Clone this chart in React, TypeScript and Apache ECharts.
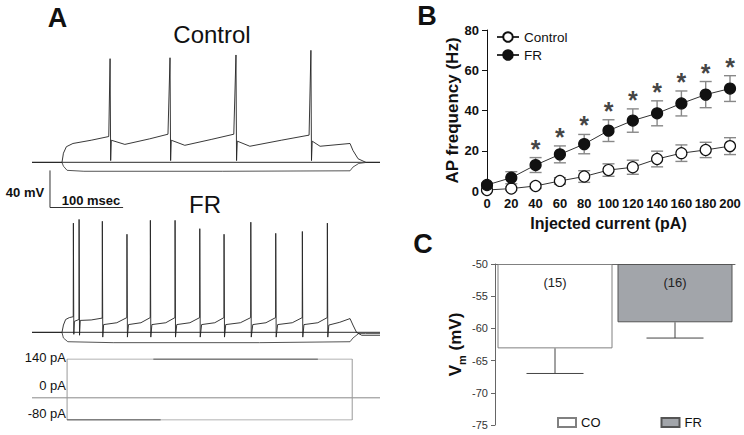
import React, { useEffect, useRef } from 'react';
import * as echarts from 'echarts';

const FONT = '"Liberation Sans", Arial, sans-serif';

// ---------- Panel A: example traces (time in ms, membrane potential in mV) ----------
const ctrlRest = [[-11, -70], [465, -70]];
const ctrlHyper = [[-11, -70], [30, -70], [32, -74], [37, -78.5], [60, -79.5], [250, -79.5], [424, -79], [428, -75], [436, -71], [446, -70], [465, -70]];
const ctrlDepol = [
  [-11, -70], [30, -70], [32, -60], [36, -53], [45, -49.5], [70, -46], [94, -42],
  [95.8, 42], [96.6, -68], [97.5, -46], [116, -50.5], [150, -44.5], [175, -39.5],
  [177.8, 43], [178.6, -68], [179.5, -46], [198, -51.5], [235, -45], [265, -39.5],
  [268, 46], [268.8, -68], [269.8, -47], [287, -52.5], [330, -46], [368, -40.5],
  [370.5, 51], [371.3, -68], [372.3, -47], [383, -52.5], [424, -49.5], [428, -57], [435, -66], [446, -70], [465, -70],
];
const scaleBar = [[13.6, -78.6], [13.6, -118.6], [113.6, -118.6]]; // 40 mV, 100 ms

const frRest = [[-11, -70], [465, -70]];
const frHyper = [[-11, -70], [30, -70], [32, -76], [38, -80], [100, -81], [300, -81], [424, -80], [428, -76], [436, -71], [445, -71], [465, -71]];
const frDepol = [
  [-11, -70], [30, -70], [32, -62], [35, -56], [40, -54], [45.4, -53],
  [45.6, 48], [46.2, -72], [47, -58], [53.2, -56],
  [53.4, 52], [54, -73], [55, -57], [70, -56.5], [85, -54.5],
  [85.2, 50], [85.8, -75], [87, -61.5], [105, -59.5], [118.7, -54],
  [118.9, 36], [119.5, -75], [121, -61.5], [138, -59.5], [150.7, -54],
  [150.9, 51], [151.5, -75], [153, -61.5], [172, -59.5], [184.5, -54],
  [184.7, 51], [185.3, -75], [187, -61.5], [205, -59.5], [218.3, -54],
  [218.5, 42], [219.1, -75], [221, -61.5], [239, -59.5], [251.5, -54],
  [251.7, 36], [252.3, -75], [254, -61.5], [274, -59.5], [288.1, -54],
  [288.3, 49], [288.9, -75], [291, -61.5], [309, -59.5], [322.2, -54],
  [322.4, 37], [323, -75], [325, -61.5], [345, -59.5], [358.6, -54],
  [358.8, 39], [359.4, -75], [361, -61.5], [380, -59.5], [392.8, -54],
  [393, 48], [393.6, -75], [395, -62], [410, -59], [424, -55],
  [428, -62], [433, -70], [440, -73], [465, -73],
];

// stimulus protocol (pA)
const stimZero = [[-11, 0], [465, 0]];
const stimBox = [[37, -80], [37, 140], [427, 140], [427, -80], [37, -80]];
const stimTopDark = [[155, 140], [380, 140]];
const stimBottomDark = [[37, -80], [165, -80]];
const stimLabels = ['140 pA', '0 pA', '-80 pA'];

// ---------- Panel B: AP frequency vs injected current ----------
const currents = [0, 20, 40, 60, 80, 100, 120, 140, 160, 180, 200];
const ctrlMean = [0.5, 1.2, 2.5, 5.0, 7.2, 10.4, 11.8, 15.9, 18.8, 20.4, 22.3];
const ctrlSem = [0.6, 0.8, 1.2, 1.6, 2.9, 3.1, 3.5, 3.9, 4.1, 3.8, 4.2];
const frMean = [3.0, 6.6, 12.9, 18.2, 23.3, 30.0, 35.0, 38.6, 43.5, 47.9, 50.9];
const frSem = [1.0, 3.0, 3.7, 4.2, 4.8, 5.4, 5.8, 6.2, 6.2, 6.5, 6.4];
const frSignificant = [false, false, true, true, true, true, true, true, true, true, true];

// ---------- Panel C: resting membrane potential ----------
const groups = ['CO', 'FR'];
const vmMean = [-63.1, -59.05];
const vmSem = [3.9, 2.45];
const groupN = ['(15)', '(16)'];

const errRender = (cap: number, color: string, lw: number, bothCaps: boolean) => (params: any, api: any) => {
  const x = api.value(0);
  const lo = api.coord([x, api.value(1)]);
  const hi = api.coord([x, api.value(2)]);
  const st = { stroke: color, lineWidth: lw };
  const children: any[] = [
    { type: 'line', shape: { x1: lo[0], y1: lo[1], x2: hi[0], y2: hi[1] }, style: st },
    { type: 'line', shape: { x1: lo[0] - cap, y1: lo[1], x2: lo[0] + cap, y2: lo[1] }, style: st },
  ];
  if (bothCaps) children.push({ type: 'line', shape: { x1: hi[0] - cap, y1: hi[1], x2: hi[0] + cap, y2: hi[1] }, style: st });
  return { type: 'group', children };
};

const trace = (name: string, data: number[][], gi: number, color: string, width: number, extra: any = {}) => ({
  type: 'line', name, data, xAxisIndex: gi, yAxisIndex: gi, showSymbol: false, symbol: 'none',
  lineStyle: { color, width }, silent: true, z: 2, ...extra,
});

const txt = (text: string, x: number, y: number, size: number, weight = 'normal', align = 'center') => ({
  type: 'text', x, y, silent: true,
  style: {
    text, fill: '#111', font: `${weight} ${size}px ${FONT}`,
    align, verticalAlign: 'middle', textAlign: align, textVerticalAlign: 'middle',
  },
});

const hiddenX = (gi: number) => ({ type: 'value', gridIndex: gi, min: -11, max: 465, show: false });

const option: any = {
  animation: false,
  backgroundColor: '#fff',
  textStyle: { fontFamily: FONT },
  grid: [
    { left: 32, top: 42, width: 348, height: 139, containLabel: false, outerBoundsMode: 'none' },
    { left: 32, top: 212, width: 348, height: 139, containLabel: false, outerBoundsMode: 'none' },
    { left: 32, top: 359, width: 348, height: 61, containLabel: false, outerBoundsMode: 'none' },
    { left: 487, top: 30, width: 243, height: 161, containLabel: false, outerBoundsMode: 'none' },
    { left: 495, top: 264, width: 240, height: 161, containLabel: false, outerBoundsMode: 'none' },
  ],
  xAxis: [
    hiddenX(0), hiddenX(1), hiddenX(2),
    {
      type: 'value', gridIndex: 3, min: 0, max: 200, interval: 20,
      axisLine: { show: false }, axisTick: { show: false }, splitLine: { show: false },
      axisLabel: { fontSize: 13, fontWeight: 'bold', color: '#111', margin: 6, showMinLabel: true, showMaxLabel: true, fontFamily: FONT },
      name: 'Injected current (pA)', nameLocation: 'middle', nameGap: 24,
      nameTextStyle: { fontSize: 16, fontWeight: 'bold', color: '#111', fontFamily: FONT },
    },
    {
      type: 'category', gridIndex: 4, data: groups, position: 'top',
      axisLine: { show: true, lineStyle: { color: '#666', width: 1 } },
      axisTick: { show: false }, axisLabel: { show: false },
    },
  ],
  yAxis: [
    { type: 'value', gridIndex: 0, min: -90, max: 60, show: false },
    { type: 'value', gridIndex: 1, min: -90, max: 60, show: false },
    { type: 'value', gridIndex: 2, min: -80, max: 140, show: false },
    {
      type: 'value', gridIndex: 3, min: 0, max: 80, interval: 20,
      axisLine: { show: true, lineStyle: { color: '#111', width: 1 } },
      axisTick: { show: true, length: 5, lineStyle: { color: '#111' } },
      splitLine: { show: false },
      axisLabel: { fontSize: 13, fontWeight: 'bold', color: '#111', margin: 8, fontFamily: FONT },
      name: 'AP frequency (Hz)', nameLocation: 'middle', nameGap: 21,
      nameTextStyle: { fontSize: 17, fontWeight: 'bold', color: '#111', fontFamily: FONT },
    },
    {
      type: 'value', gridIndex: 4, min: -75, max: -50, interval: 5, startValue: -50,
      axisLine: { show: true, lineStyle: { color: '#666', width: 1 } },
      axisTick: { show: true, length: 4, lineStyle: { color: '#666' } },
      splitLine: { show: false },
      axisLabel: { fontSize: 11, color: '#333', margin: 7, fontFamily: FONT },
      name: 'V{s|m} (mV)', nameLocation: 'middle', nameGap: 28,
      nameTextStyle: {
        fontSize: 17, fontWeight: 'bold', color: '#111', fontFamily: FONT,
        rich: { s: { fontSize: 11, fontWeight: 'bold', color: '#111', fontFamily: FONT, verticalAlign: 'bottom', lineHeight: 24 } },
      },
    },
  ],
  legend: [
    {
      data: ['Control', 'FR'], orient: 'vertical', left: 491, top: 25, itemGap: 4,
      itemWidth: 22, itemHeight: 12, selectedMode: false,
      textStyle: { fontSize: 13.5, color: '#111', fontFamily: FONT },
    },
    {
      data: ['CO', 'FR_C'], orient: 'horizontal', left: 552, top: 411, itemGap: 60,
      itemWidth: 18, itemHeight: 9, icon: 'rect', selectedMode: false,
      formatter: (n: string) => (n === 'FR_C' ? 'FR' : n),
      textStyle: { fontSize: 13, color: '#111', fontFamily: FONT },
    },
  ],
  series: [
    trace('ctrl-rest', ctrlRest, 0, '#555', 1.3),
    trace('ctrl-hyper', ctrlHyper, 0, '#555', 1),
    trace('ctrl-depol', ctrlDepol, 0, '#222', 0.9),
    trace('scale-bar', scaleBar, 0, '#333', 1, { clip: false }),
    trace('fr-rest', frRest, 1, '#555', 1.3),
    trace('fr-hyper', frHyper, 1, '#555', 1),
    trace('fr-depol', frDepol, 1, '#222', 0.9),
    trace('stim-zero', stimZero, 2, '#888', 1),
    trace('stim-box', stimBox, 2, '#999', 1),
    trace('stim-top', stimTopDark, 2, '#333', 1),
    trace('stim-bottom', stimBottomDark, 2, '#333', 1),
    {
      type: 'custom', name: 'ctrl-err', xAxisIndex: 3, yAxisIndex: 3, z: 3, silent: true,
      renderItem: errRender(6, '#888', 1.4, true),
      encode: { x: 0, y: [1, 2] },
      data: currents.map((c, i) => [c, ctrlMean[i] - ctrlSem[i], ctrlMean[i] + ctrlSem[i]]),
    },
    {
      type: 'custom', name: 'fr-err', xAxisIndex: 3, yAxisIndex: 3, z: 3, silent: true,
      renderItem: errRender(6, '#888', 1.4, true),
      encode: { x: 0, y: [1, 2] },
      data: currents.map((c, i) => [c, frMean[i] - frSem[i], frMean[i] + frSem[i]]),
    },
    {
      type: 'line', name: 'Control', xAxisIndex: 3, yAxisIndex: 3, z: 4,
      data: currents.map((c, i) => [c, ctrlMean[i]]),
      symbol: 'circle', symbolSize: 11, showSymbol: true,
      itemStyle: { color: '#fff', borderColor: '#111', borderWidth: 1.2 },
      lineStyle: { color: '#333', width: 1 },
    },
    {
      type: 'line', name: 'FR', xAxisIndex: 3, yAxisIndex: 3, z: 4,
      data: currents.map((c, i) => [c, frMean[i]]),
      symbol: 'circle', symbolSize: 11, showSymbol: true,
      itemStyle: { color: '#111', borderColor: '#111', borderWidth: 1.2 },
      lineStyle: { color: '#333', width: 1 },
    },
    {
      type: 'scatter', name: 'stars', xAxisIndex: 3, yAxisIndex: 3, z: 5, silent: true,
      symbolSize: 1, itemStyle: { color: 'rgba(0,0,0,0)' },
      data: currents.map((c, i) => (frSignificant[i] ? [c, frMean[i] + frSem[i]] : null)).filter((d) => d),
      label: { show: true, formatter: '*', position: 'top', distance: -4, fontSize: 25, fontWeight: 'bold', color: '#111', fontFamily: FONT },
    },
    {
      type: 'bar', name: 'CO', xAxisIndex: 4, yAxisIndex: 4, z: 2,
      data: [vmMean[0], '-'], barWidth: 115, barGap: '-100%',
      itemStyle: { color: '#fff', borderColor: '#808080', borderWidth: 1 },
      label: { show: true, position: 'insideTop', distance: 12, formatter: (p: any) => groupN[p.dataIndex], fontSize: 13, color: '#222', fontFamily: FONT },
    },
    {
      type: 'bar', name: 'FR_C', xAxisIndex: 4, yAxisIndex: 4, z: 2,
      data: ['-', vmMean[1]], barWidth: 115, barGap: '-100%',
      itemStyle: { color: '#a2a5aa', borderColor: '#555', borderWidth: 1 },
      label: { show: true, position: 'insideTop', distance: 12, formatter: (p: any) => groupN[p.dataIndex], fontSize: 13, color: '#222', fontFamily: FONT },
    },
    {
      type: 'custom', name: 'vm-err', xAxisIndex: 4, yAxisIndex: 4, z: 3, silent: true,
      renderItem: errRender(28.5, '#444', 1, false),
      encode: { x: 0, y: [1, 2] },
      data: groups.map((g, i) => [i, vmMean[i] - vmSem[i], vmMean[i]]),
    },
  ],
  graphic: [
    txt('A', 57.5, 18, 27, 'bold'),
    txt('B', 427, 16, 27, 'bold'),
    txt('C', 423, 244, 27, 'bold'),
    txt('Control', 212, 34, 24),
    txt('FR', 205, 204, 24),
    txt('40 mV', 25, 192, 13, 'bold'),
    txt('100 msec', 91, 200, 13, 'bold'),
    txt(stimLabels[0], 66, 357, 13, 'normal', 'right'),
    txt(stimLabels[1], 66, 385, 13, 'normal', 'right'),
    txt(stimLabels[2], 66, 413, 13, 'normal', 'right'),
  ],
};

export default function App() {
  const ref = useRef<HTMLDivElement>(null);
  useEffect(() => {
    if (!ref.current) return;
    const chart = echarts.init(ref.current, undefined, { renderer: 'svg' });
    chart.setOption(option);
    return () => chart.dispose();
  }, []);
  return <div ref={ref} style={{ position: 'fixed', left: 0, top: 0, width: 744, height: 435, background: '#fff' }} />;
}
